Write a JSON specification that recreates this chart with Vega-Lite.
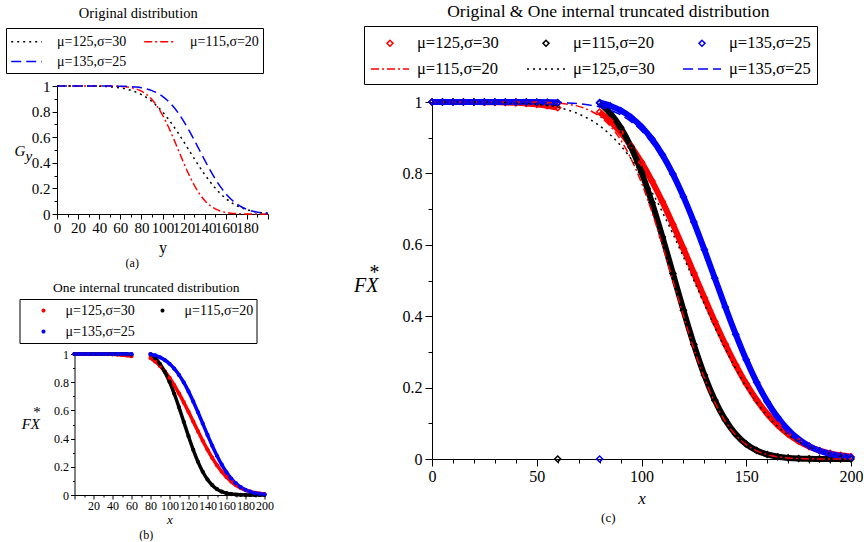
{
  "$schema": "https://vega.github.io/schema/vega-lite/v6.json",
  "background": "white",
  "padding": {"left": 5, "top": 3, "right": 0, "bottom": 0},
  "config": {
    "view": {"stroke": null},
    "font": "Liberation Serif",
    "axis": {"grid": false, "domainColor": "black", "tickColor": "black", "labelColor": "black", "titleColor": "black", "labelFont": "Liberation Serif", "titleFont": "Liberation Serif", "titleFontWeight": "normal", "labelOverlap": false, "labelFlush": false, "labelBound": false},
    "title": {"font": "Liberation Serif", "fontWeight": "normal", "color": "black", "anchor": "middle", "frame": "bounds"},
    "legend": {"labelFont": "Liberation Serif", "labelColor": "black", "strokeColor": "black", "title": null, "direction": "horizontal"}
  },
  "datasets": {
    "orig": [
      {"x":0,"y":1,"k":"l115,20"},{"x":5,"y":1,"k":"l115,20"},{"x":10,"y":1,"k":"l115,20"},{"x":15,"y":1,"k":"l115,20"},{"x":20,"y":1,"k":"l115,20"},{"x":25,"y":1,"k":"l115,20"},{"x":30,"y":1,"k":"l115,20"},{"x":35,"y":1,"k":"l115,20"},{"x":40,"y":0.9999,"k":"l115,20"},{"x":45,"y":0.9998,"k":"l115,20"},{"x":50,"y":0.9994,"k":"l115,20"},{"x":55,"y":0.9987,"k":"l115,20"},{"x":60,"y":0.997,"k":"l115,20"},{"x":65,"y":0.9938,"k":"l115,20"},{"x":70,"y":0.9878,"k":"l115,20"},{"x":75,"y":0.9772,"k":"l115,20"},{"x":80,"y":0.9599,"k":"l115,20"},{"x":85,"y":0.9332,"k":"l115,20"},{"x":90,"y":0.8944,"k":"l115,20"},{"x":95,"y":0.8413,"k":"l115,20"},{"x":100,"y":0.7734,"k":"l115,20"},{"x":105,"y":0.6915,"k":"l115,20"},{"x":110,"y":0.5987,"k":"l115,20"},{"x":115,"y":0.5,"k":"l115,20"},{"x":120,"y":0.4013,"k":"l115,20"},{"x":125,"y":0.3085,"k":"l115,20"},{"x":130,"y":0.2266,"k":"l115,20"},{"x":135,"y":0.1587,"k":"l115,20"},{"x":140,"y":0.1056,"k":"l115,20"},{"x":145,"y":0.0668,"k":"l115,20"},{"x":150,"y":0.0401,"k":"l115,20"},{"x":155,"y":0.0228,"k":"l115,20"},{"x":160,"y":0.0122,"k":"l115,20"},{"x":165,"y":0.0062,"k":"l115,20"},{"x":170,"y":0.003,"k":"l115,20"},{"x":175,"y":0.0013,"k":"l115,20"},{"x":180,"y":0.0006,"k":"l115,20"},{"x":185,"y":0.0002,"k":"l115,20"},{"x":190,"y":0.0001,"k":"l115,20"},{"x":195,"y":0,"k":"l115,20"},{"x":200,"y":0,"k":"l115,20"},
      {"x":0,"y":1,"k":"l125,30"},{"x":5,"y":1,"k":"l125,30"},{"x":10,"y":0.9999,"k":"l125,30"},{"x":15,"y":0.9999,"k":"l125,30"},{"x":20,"y":0.9998,"k":"l125,30"},{"x":25,"y":0.9996,"k":"l125,30"},{"x":30,"y":0.9992,"k":"l125,30"},{"x":35,"y":0.9987,"k":"l125,30"},{"x":40,"y":0.9977,"k":"l125,30"},{"x":45,"y":0.9962,"k":"l125,30"},{"x":50,"y":0.9938,"k":"l125,30"},{"x":55,"y":0.9901,"k":"l125,30"},{"x":60,"y":0.9849,"k":"l125,30"},{"x":65,"y":0.9772,"k":"l125,30"},{"x":70,"y":0.9666,"k":"l125,30"},{"x":75,"y":0.9522,"k":"l125,30"},{"x":80,"y":0.9332,"k":"l125,30"},{"x":85,"y":0.9088,"k":"l125,30"},{"x":90,"y":0.8783,"k":"l125,30"},{"x":95,"y":0.8413,"k":"l125,30"},{"x":100,"y":0.7977,"k":"l125,30"},{"x":105,"y":0.7475,"k":"l125,30"},{"x":110,"y":0.6915,"k":"l125,30"},{"x":115,"y":0.6306,"k":"l125,30"},{"x":120,"y":0.5662,"k":"l125,30"},{"x":125,"y":0.5,"k":"l125,30"},{"x":130,"y":0.4338,"k":"l125,30"},{"x":135,"y":0.3694,"k":"l125,30"},{"x":140,"y":0.3085,"k":"l125,30"},{"x":145,"y":0.2525,"k":"l125,30"},{"x":150,"y":0.2023,"k":"l125,30"},{"x":155,"y":0.1587,"k":"l125,30"},{"x":160,"y":0.1217,"k":"l125,30"},{"x":165,"y":0.0912,"k":"l125,30"},{"x":170,"y":0.0668,"k":"l125,30"},{"x":175,"y":0.0478,"k":"l125,30"},{"x":180,"y":0.0334,"k":"l125,30"},{"x":185,"y":0.0228,"k":"l125,30"},{"x":190,"y":0.0151,"k":"l125,30"},{"x":195,"y":0.0099,"k":"l125,30"},{"x":200,"y":0.0062,"k":"l125,30"},
      {"x":0,"y":1,"k":"l135,25"},{"x":5,"y":1,"k":"l135,25"},{"x":10,"y":1,"k":"l135,25"},{"x":15,"y":1,"k":"l135,25"},{"x":20,"y":1,"k":"l135,25"},{"x":25,"y":1,"k":"l135,25"},{"x":30,"y":1,"k":"l135,25"},{"x":35,"y":1,"k":"l135,25"},{"x":40,"y":0.9999,"k":"l135,25"},{"x":45,"y":0.9998,"k":"l135,25"},{"x":50,"y":0.9997,"k":"l135,25"},{"x":55,"y":0.9993,"k":"l135,25"},{"x":60,"y":0.9987,"k":"l135,25"},{"x":65,"y":0.9974,"k":"l135,25"},{"x":70,"y":0.9953,"k":"l135,25"},{"x":75,"y":0.9918,"k":"l135,25"},{"x":80,"y":0.9861,"k":"l135,25"},{"x":85,"y":0.9772,"k":"l135,25"},{"x":90,"y":0.9641,"k":"l135,25"},{"x":95,"y":0.9452,"k":"l135,25"},{"x":100,"y":0.9192,"k":"l135,25"},{"x":105,"y":0.8849,"k":"l135,25"},{"x":110,"y":0.8413,"k":"l135,25"},{"x":115,"y":0.7881,"k":"l135,25"},{"x":120,"y":0.7257,"k":"l135,25"},{"x":125,"y":0.6554,"k":"l135,25"},{"x":130,"y":0.5793,"k":"l135,25"},{"x":135,"y":0.5,"k":"l135,25"},{"x":140,"y":0.4207,"k":"l135,25"},{"x":145,"y":0.3446,"k":"l135,25"},{"x":150,"y":0.2743,"k":"l135,25"},{"x":155,"y":0.2119,"k":"l135,25"},{"x":160,"y":0.1587,"k":"l135,25"},{"x":165,"y":0.1151,"k":"l135,25"},{"x":170,"y":0.0808,"k":"l135,25"},{"x":175,"y":0.0548,"k":"l135,25"},{"x":180,"y":0.0359,"k":"l135,25"},{"x":185,"y":0.0228,"k":"l135,25"},{"x":190,"y":0.0139,"k":"l135,25"},{"x":195,"y":0.0082,"k":"l135,25"},{"x":200,"y":0.0047,"k":"l135,25"}
    ],
    "trunc": [
      {"x":0,"y":1,"k":"p125,30","g":"lo"},{"x":5,"y":1,"k":"p125,30","g":"lo"},{"x":10,"y":0.9999,"k":"p125,30","g":"lo"},{"x":15,"y":0.9999,"k":"p125,30","g":"lo"},{"x":20,"y":0.9998,"k":"p125,30","g":"lo"},{"x":25,"y":0.9996,"k":"p125,30","g":"lo"},{"x":30,"y":0.9992,"k":"p125,30","g":"lo"},{"x":35,"y":0.9986,"k":"p125,30","g":"lo"},{"x":40,"y":0.9976,"k":"p125,30","g":"lo"},{"x":45,"y":0.996,"k":"p125,30","g":"lo"},{"x":50,"y":0.9935,"k":"p125,30","g":"lo"},{"x":55,"y":0.9897,"k":"p125,30","g":"lo"},{"x":60,"y":0.9841,"k":"p125,30","g":"lo"},
      {"x":80,"y":0.9721,"k":"p125,30","g":"hi"},{"x":85,"y":0.9467,"k":"p125,30","g":"hi"},{"x":90,"y":0.9149,"k":"p125,30","g":"hi"},{"x":95,"y":0.8764,"k":"p125,30","g":"hi"},{"x":100,"y":0.8309,"k":"p125,30","g":"hi"},{"x":105,"y":0.7786,"k":"p125,30","g":"hi"},{"x":110,"y":0.7203,"k":"p125,30","g":"hi"},{"x":115,"y":0.6569,"k":"p125,30","g":"hi"},{"x":120,"y":0.5898,"k":"p125,30","g":"hi"},{"x":125,"y":0.5208,"k":"p125,30","g":"hi"},{"x":130,"y":0.4519,"k":"p125,30","g":"hi"},{"x":135,"y":0.3848,"k":"p125,30","g":"hi"},{"x":140,"y":0.3214,"k":"p125,30","g":"hi"},{"x":145,"y":0.263,"k":"p125,30","g":"hi"},{"x":150,"y":0.2107,"k":"p125,30","g":"hi"},{"x":155,"y":0.1653,"k":"p125,30","g":"hi"},{"x":160,"y":0.1268,"k":"p125,30","g":"hi"},{"x":165,"y":0.095,"k":"p125,30","g":"hi"},{"x":170,"y":0.0696,"k":"p125,30","g":"hi"},{"x":175,"y":0.0498,"k":"p125,30","g":"hi"},{"x":180,"y":0.0348,"k":"p125,30","g":"hi"},{"x":185,"y":0.0238,"k":"p125,30","g":"hi"},{"x":190,"y":0.0157,"k":"p125,30","g":"hi"},{"x":195,"y":0.0103,"k":"p125,30","g":"hi"},{"x":200,"y":0.0065,"k":"p125,30","g":"hi"},
      {"x":0,"y":1,"k":"p115,20","g":"lo"},{"x":5,"y":1,"k":"p115,20","g":"lo"},{"x":10,"y":1,"k":"p115,20","g":"lo"},{"x":15,"y":1,"k":"p115,20","g":"lo"},{"x":20,"y":1,"k":"p115,20","g":"lo"},{"x":25,"y":1,"k":"p115,20","g":"lo"},{"x":30,"y":1,"k":"p115,20","g":"lo"},{"x":35,"y":1,"k":"p115,20","g":"lo"},{"x":40,"y":0.9999,"k":"p115,20","g":"lo"},{"x":45,"y":0.9998,"k":"p115,20","g":"lo"},{"x":50,"y":0.9994,"k":"p115,20","g":"lo"},{"x":55,"y":0.9986,"k":"p115,20","g":"lo"},{"x":60,"y":0.9969,"k":"p115,20","g":"lo"},
      {"x":60,"y":0,"k":"p115,20","g":"z"},
      {"x":80,"y":0.9969,"k":"p115,20","g":"hi"},{"x":85,"y":0.9692,"k":"p115,20","g":"hi"},{"x":90,"y":0.9289,"k":"p115,20","g":"hi"},{"x":95,"y":0.8737,"k":"p115,20","g":"hi"},{"x":100,"y":0.8032,"k":"p115,20","g":"hi"},{"x":105,"y":0.7181,"k":"p115,20","g":"hi"},{"x":110,"y":0.6218,"k":"p115,20","g":"hi"},{"x":115,"y":0.5193,"k":"p115,20","g":"hi"},{"x":120,"y":0.4168,"k":"p115,20","g":"hi"},{"x":125,"y":0.3204,"k":"p115,20","g":"hi"},{"x":130,"y":0.2353,"k":"p115,20","g":"hi"},{"x":135,"y":0.1648,"k":"p115,20","g":"hi"},{"x":140,"y":0.1097,"k":"p115,20","g":"hi"},{"x":145,"y":0.0694,"k":"p115,20","g":"hi"},{"x":150,"y":0.0416,"k":"p115,20","g":"hi"},{"x":155,"y":0.0237,"k":"p115,20","g":"hi"},{"x":160,"y":0.0127,"k":"p115,20","g":"hi"},{"x":165,"y":0.0064,"k":"p115,20","g":"hi"},{"x":170,"y":0.0031,"k":"p115,20","g":"hi"},{"x":175,"y":0.0014,"k":"p115,20","g":"hi"},{"x":180,"y":0.0006,"k":"p115,20","g":"hi"},{"x":185,"y":0.0002,"k":"p115,20","g":"hi"},{"x":190,"y":0.0001,"k":"p115,20","g":"hi"},{"x":195,"y":0,"k":"p115,20","g":"hi"},{"x":200,"y":0,"k":"p115,20","g":"hi"},
      {"x":0,"y":1,"k":"p135,25","g":"lo"},{"x":5,"y":1,"k":"p135,25","g":"lo"},{"x":10,"y":1,"k":"p135,25","g":"lo"},{"x":15,"y":1,"k":"p135,25","g":"lo"},{"x":20,"y":1,"k":"p135,25","g":"lo"},{"x":25,"y":1,"k":"p135,25","g":"lo"},{"x":30,"y":1,"k":"p135,25","g":"lo"},{"x":35,"y":1,"k":"p135,25","g":"lo"},{"x":40,"y":1,"k":"p135,25","g":"lo"},{"x":45,"y":1,"k":"p135,25","g":"lo"},{"x":50,"y":1,"k":"p135,25","g":"lo"},{"x":55,"y":0.9993,"k":"p135,25","g":"lo"},{"x":60,"y":0.9986,"k":"p135,25","g":"lo"},
      {"x":80,"y":0,"k":"p135,25","g":"z"},
      {"x":80,"y":0.9986,"k":"p135,25","g":"hi"},{"x":85,"y":0.9896,"k":"p135,25","g":"hi"},{"x":90,"y":0.9763,"k":"p135,25","g":"hi"},{"x":95,"y":0.9572,"k":"p135,25","g":"hi"},{"x":100,"y":0.9308,"k":"p135,25","g":"hi"},{"x":105,"y":0.8961,"k":"p135,25","g":"hi"},{"x":110,"y":0.8519,"k":"p135,25","g":"hi"},{"x":115,"y":0.7981,"k":"p135,25","g":"hi"},{"x":120,"y":0.7349,"k":"p135,25","g":"hi"},{"x":125,"y":0.6637,"k":"p135,25","g":"hi"},{"x":130,"y":0.5866,"k":"p135,25","g":"hi"},{"x":135,"y":0.5063,"k":"p135,25","g":"hi"},{"x":140,"y":0.426,"k":"p135,25","g":"hi"},{"x":145,"y":0.349,"k":"p135,25","g":"hi"},{"x":150,"y":0.2778,"k":"p135,25","g":"hi"},{"x":155,"y":0.2146,"k":"p135,25","g":"hi"},{"x":160,"y":0.1607,"k":"p135,25","g":"hi"},{"x":165,"y":0.1166,"k":"p135,25","g":"hi"},{"x":170,"y":0.0818,"k":"p135,25","g":"hi"},{"x":175,"y":0.0555,"k":"p135,25","g":"hi"},{"x":180,"y":0.0364,"k":"p135,25","g":"hi"},{"x":185,"y":0.0231,"k":"p135,25","g":"hi"},{"x":190,"y":0.0141,"k":"p135,25","g":"hi"},{"x":195,"y":0.0083,"k":"p135,25","g":"hi"},{"x":200,"y":0.0048,"k":"p135,25","g":"hi"}
    ]
  },
  "resolve": {"scale": {"color": "independent", "shape": "independent", "strokeDash": "independent", "stroke": "independent"}},
  "columns": 2,
  "align": {"row": "each", "column": "none"},
  "center": {"row": true, "column": false},
  "spacing": 62,
  "concat": [
    {
      "columns": 1,
      "align": "each",
      "center": {"column": true, "row": false},
      "spacing": 12,
      "resolve": {"scale": {"color": "independent", "shape": "independent", "strokeDash": "independent", "stroke": "independent"}},
      "concat": [
        {
          "title": {"text": "(a)", "orient": "bottom", "fontSize": 12, "offset": 3, "dx": -16},
          "resolve": {"scale": {"color": "independent", "shape": "independent", "strokeDash": "independent", "stroke": "independent"}},
          "spacing": 0,
          "hconcat": [
            {
              "title": {"text": "Original distribution", "fontSize": 14.5, "offset": 6},
              "width": 211,
              "height": 128,
              "data": {"name": "orig"},
              "mark": {"type": "line", "strokeWidth": 1.5, "interpolate": "monotone"},
              "encoding": {
                "x": {"field": "x", "type": "quantitative", "scale": {"domain": [0, 200], "nice": false},
                  "axis": {"values": [0,10,20,30,40,50,60,70,80,90,100,110,120,130,140,150,160,170,180,190,200],
                    "labelExpr": "datum.value % 20 === 0 && datum.value < 200 ? datum.label : ''",
                    "tickSize": {"condition": {"test": "datum.value % 20 === 0", "value": 5}, "value": 3},
                    "labelOverlap": false, "labelFontSize": 15, "labelPadding": 1, "title": "y", "titleFontSize": 16, "titlePadding": 4}},
                "y": {"field": "y", "type": "quantitative", "scale": {"domain": [0, 1]},
                  "axis": {"values": [0,0.1,0.2,0.3,0.4,0.5,0.6,0.7,0.8,0.9,1],
                    "labelExpr": "round(datum.value*10) % 2 === 0 ? format(datum.value, '~g') : ''",
                    "tickSize": {"condition": {"test": "round(datum.value*10) % 2 === 0", "value": 5}, "value": 3},
                    "labelOverlap": false, "labelFontSize": 15, "labelPadding": 2,
                    "title": ["G", "\u2800y"], "titleAngle": 0, "titleAlign": "left", "titleBaseline": "alphabetic",
                    "titleX": -43, "titleY": 69, "titleFontSize": 15, "titleFontStyle": "italic", "titleLineHeight": 5}},
                "color": {"field": "k", "type": "nominal",
                  "scale": {"domain": ["l125,30", "l115,20", "l135,25"], "range": ["black", "#ff0000", "#0000ff"]},
                  "legend": {"orient": "none", "legendX": -51, "legendY": -58, "columns": 2, "padding": 4, "rowPadding": 3, "columnPadding": 14,
                    "symbolType": "M-1.8,0H1.8", "symbolSize": 289, "symbolOffset": 7, "symbolStrokeWidth": 1.5, "labelFontSize": 14, "labelOffset": 21,
                    "labelExpr": "'μ=' + slice(datum.label, 1, 4) + ',σ=' + slice(datum.label, 5)"}},
                "strokeDash": {"field": "k", "type": "nominal",
                  "scale": {"domain": ["l125,30", "l115,20", "l135,25"], "range": [[2, 4], [8, 3, 2, 3], [10, 5]]},
                  "legend": {"orient": "none", "legendX": -51, "legendY": -58, "columns": 2, "padding": 4, "rowPadding": 3, "columnPadding": 14,
                    "symbolType": "M-1.8,0H1.8", "symbolSize": 289, "symbolOffset": 7, "symbolStrokeWidth": 1.5, "labelFontSize": 14, "labelOffset": 21,
                    "labelExpr": "'μ=' + slice(datum.label, 1, 4) + ',σ=' + slice(datum.label, 5)"}}
              }
            },
            {
              "width": 20,
              "height": 10,
              "data": {"values": [{"v": 0}]},
              "mark": {"type": "text", "text": ""},
              "encoding": {}
            }
          ]
        },
        {
          "title": {"text": "(b)", "orient": "bottom", "fontSize": 12, "offset": 4},
          "resolve": {"scale": {"color": "independent", "shape": "independent", "strokeDash": "independent", "stroke": "independent"}},
          "vconcat": [
            {
              "title": {"text": "One internal truncated distribution", "fontSize": 13.5, "offset": 4},
              "width": 190,
              "height": 141,
              "encoding": {
                "x": {"field": "x", "type": "quantitative", "scale": {"domain": [0, 200], "nice": false},
                  "axis": {"values": [0,10,20,30,40,50,60,70,80,90,100,110,120,130,140,150,160,170,180,190,200],
                    "labelExpr": "datum.value % 20 === 0 && datum.value > 0 ? datum.label : ''",
                    "tickSize": {"condition": {"test": "datum.value % 20 === 0", "value": 4}, "value": 2},
                    "labelOverlap": false, "labelFontSize": 12, "labelPadding": 1, "title": "x", "titleFontSize": 13, "titleFontStyle": "italic", "titlePadding": 2}},
                "y": {"field": "y", "type": "quantitative", "scale": {"domain": [0, 1]},
                  "axis": {"values": [0,0.1,0.2,0.3,0.4,0.5,0.6,0.7,0.8,0.9,1],
                    "labelExpr": "round(datum.value*10) % 2 === 0 ? format(datum.value, '~g') : ''",
                    "tickSize": {"condition": {"test": "round(datum.value*10) % 2 === 0", "value": 4}, "value": 2},
                    "labelOverlap": false, "labelFontSize": 12, "labelPadding": 2,
                    "title": ["*", "FX"], "titleAngle": 0, "titleAlign": "right", "titleBaseline": "alphabetic",
                    "titleX": -35, "titleY": 62, "titleFontSize": 15, "titleFontStyle": "italic", "titleLineHeight": 12}}
              },
              "layer": [
                {
                  "data": {"name": "trunc"},
                  "transform": [{"filter": "datum.g != 'z'"}],
                  "mark": {"type": "line", "strokeWidth": 3.5, "interpolate": "monotone"},
                  "encoding": {
                    "stroke": {"field": "k", "type": "nominal",
                      "scale": {"domain": ["p115,20", "p125,30", "p135,25"], "range": ["black", "#ff0000", "#0000ff"]},
                      "legend": null},
                    "detail": {"field": "g"}
                  }
                },
                {
                  "data": {"name": "trunc"},
                  "transform": [{"filter": "datum.g != 'z'"}],
                  "mark": {"type": "point", "filled": false, "size": 5, "strokeWidth": 2, "opacity": 1},
                  "encoding": {
                    "color": {"field": "k", "type": "nominal",
                      "scale": {"domain": ["p125,30", "p115,20", "p135,25"], "range": ["#ff0000", "black", "#0000ff"]},
                      "legend": {"orient": "none", "legendX": -55, "legendY": -55, "columns": 2, "padding": 3, "rowPadding": 4, "columnPadding": 6,
                        "symbolType": "M-0.05,0A0.05,0.05,0,1,1,0.05,0A0.05,0.05,0,1,1,-0.05,0Z", "symbolSize": 1600, "symbolStrokeWidth": 2,
                        "clipHeight": 17, "labelFontSize": 14, "labelOffset": 1,
                        "labelExpr": "'μ=' + slice(datum.label, 1, 4) + ',σ=' + slice(datum.label, 5)"}}
                  }
                }
              ]
            }
          ]
        }
      ]
    },
    {
      "title": {"text": "(c)", "orient": "bottom", "fontSize": 13, "offset": 6},
      "resolve": {"scale": {"color": "independent", "shape": "independent", "strokeDash": "independent", "stroke": "independent"}},
      "vconcat": [
        {
          "title": {"text": "Original & One internal truncated distribution", "fontSize": 17.5, "offset": 5},
          "width": 419,
          "height": 357,
          "encoding": {
            "x": {"field": "x", "type": "quantitative", "scale": {"domain": [0, 200], "nice": false},
              "axis": {"values": [0,10,20,30,40,50,60,70,80,90,100,110,120,130,140,150,160,170,180,190,200],
                "labelExpr": "datum.value % 50 === 0 ? datum.label : ''",
                "tickSize": {"condition": {"test": "datum.value % 50 === 0", "value": 7}, "value": 4},
                "labelOverlap": false, "labelFontSize": 16, "labelPadding": 2, "title": "x", "titleFontSize": 17, "titleFontStyle": "italic", "titlePadding": 6}},
            "y": {"field": "y", "type": "quantitative", "scale": {"domain": [0, 1]},
              "axis": {"values": [0,0.1,0.2,0.3,0.4,0.5,0.6,0.7,0.8,0.9,1],
                "labelExpr": "round(datum.value*10) % 2 === 0 ? format(datum.value, '~g') : ''",
                "tickSize": {"condition": {"test": "round(datum.value*10) % 2 === 0", "value": 7}, "value": 4},
                "labelOverlap": false, "labelFontSize": 16, "labelPadding": 3,
                "title": ["*", "FX"], "titleAngle": 0, "titleAlign": "right", "titleBaseline": "alphabetic",
                "titleX": -54, "titleY": 176, "titleFontSize": 20, "titleFontStyle": "italic", "titleLineHeight": 13}}
          },
          "layer": [
            {
              "data": {"name": "trunc"},
              "transform": [{"filter": "datum.g != 'z'"}],
              "mark": {"type": "line", "strokeWidth": 6, "interpolate": "monotone"},
              "encoding": {
                "stroke": {"field": "k", "type": "nominal",
                  "scale": {"domain": ["p115,20", "p125,30", "p135,25"], "range": ["black", "#ff0000", "#0000ff"]},
                  "legend": null},
                "detail": {"field": "g"}
              }
            },
            {
              "data": {"name": "trunc"},
              "mark": {"type": "point", "filled": false, "size": 400, "strokeWidth": 1.5, "opacity": 1},
              "encoding": {
                "color": {"field": "k", "type": "nominal",
                  "scale": {"domain": ["p125,30", "p115,20", "p135,25", "l115,20", "l125,30", "l135,25"], "range": ["#ff0000", "black", "#0000ff", "#ff0000", "black", "#0000ff"]},
                  "legend": {"orient": "none", "legendX": -68, "legendY": -76, "columns": 3, "padding": 6, "rowPadding": 6, "columnPadding": 25,
                    "symbolSize": 400, "symbolOffset": 9, "symbolStrokeWidth": 1.5, "labelFontSize": 16.5, "labelOffset": 16,
                    "labelExpr": "'μ=' + slice(datum.label, 1, 4) + ',σ=' + slice(datum.label, 5)"}},
                "shape": {"field": "k", "type": "nominal",
                  "scale": {"domain": ["p125,30", "p115,20", "p135,25", "l115,20", "l125,30", "l135,25"],
                    "range": ["M0,-0.3L0.3,0L0,0.3L-0.3,0Z", "M0,-0.3L0.3,0L0,0.3L-0.3,0Z", "M0,-0.3L0.3,0L0,0.3L-0.3,0Z", "M-1.9,0H1.9", "M-1.9,0H1.9", "M-1.9,0H1.9"]},
                  "legend": {"orient": "none", "legendX": -68, "legendY": -76, "columns": 3, "padding": 6, "rowPadding": 6, "columnPadding": 25,
                    "symbolSize": 400, "symbolOffset": 9, "symbolStrokeWidth": 1.5, "labelFontSize": 16.5, "labelOffset": 16,
                    "labelExpr": "'μ=' + slice(datum.label, 1, 4) + ',σ=' + slice(datum.label, 5)"}}
              }
            },
            {
              "data": {"name": "orig"},
              "mark": {"type": "line", "strokeWidth": 1.5, "interpolate": "monotone"},
              "encoding": {
                "color": {"field": "k", "type": "nominal",
                  "scale": {"domain": ["p125,30", "p115,20", "p135,25", "l115,20", "l125,30", "l135,25"], "range": ["#ff0000", "black", "#0000ff", "#ff0000", "black", "#0000ff"]},
                  "legend": {"orient": "none", "legendX": -68, "legendY": -76, "columns": 3, "padding": 6, "rowPadding": 6, "columnPadding": 25,
                    "symbolSize": 400, "symbolOffset": 9, "symbolStrokeWidth": 1.5, "labelFontSize": 16.5, "labelOffset": 16,
                    "labelExpr": "'μ=' + slice(datum.label, 1, 4) + ',σ=' + slice(datum.label, 5)"}},
                "strokeDash": {"field": "k", "type": "nominal",
                  "scale": {"domain": ["p125,30", "p115,20", "p135,25", "l115,20", "l125,30", "l135,25"], "range": [[1, 0], [1, 0], [1, 0], [8, 3, 2, 3], [2, 4], [10, 5]]},
                  "legend": {"orient": "none", "legendX": -68, "legendY": -76, "columns": 3, "padding": 6, "rowPadding": 6, "columnPadding": 25,
                    "symbolSize": 400, "symbolOffset": 9, "symbolStrokeWidth": 1.5, "labelFontSize": 16.5, "labelOffset": 16,
                    "labelExpr": "'μ=' + slice(datum.label, 1, 4) + ',σ=' + slice(datum.label, 5)"}}
              }
            }
          ]
        }
      ]
    }
  ]
}
